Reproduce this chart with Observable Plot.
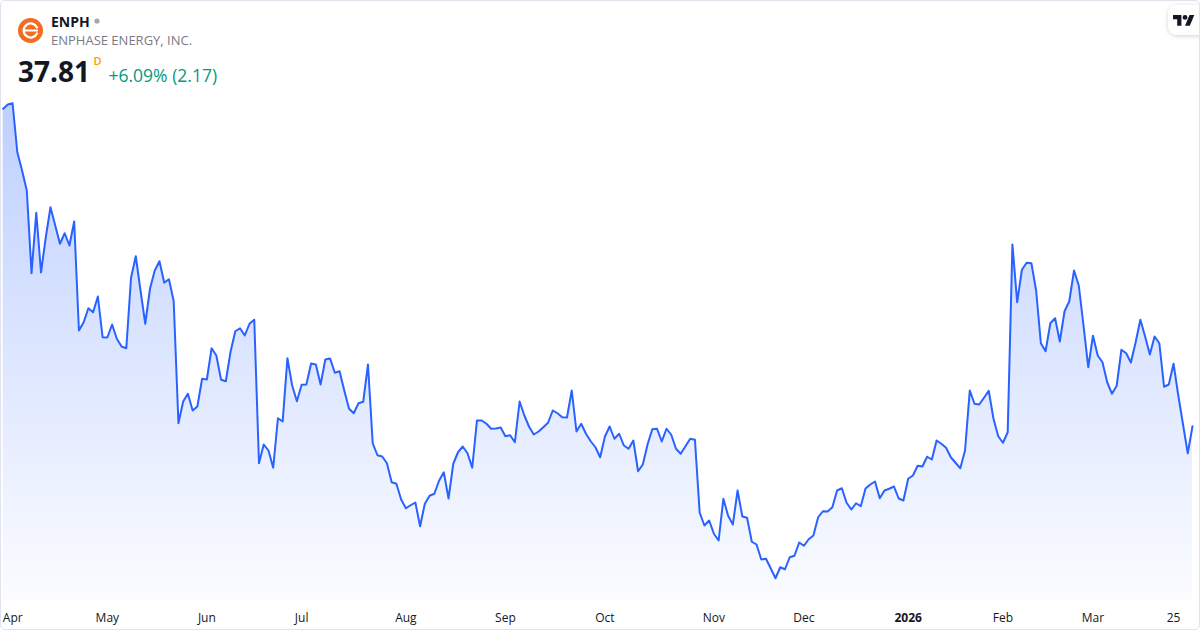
<!DOCTYPE html>
<html>
<head>
<meta charset="utf-8">
<script src="https://cdn.jsdelivr.net/npm/d3@7"></script>
<script src="https://cdn.jsdelivr.net/npm/@observablehq/plot@0.6"></script>
<style>
  html, body { margin: 0; padding: 0; background: #ffffff; }
  #wrap { position: relative; width: 1200px; height: 630px; overflow: hidden; background: #fff; font-family: "Open Sans", Roboto, sans-serif; }
  #chart { position: absolute; left: 0; top: 0; }
  #header { position: absolute; left: 0; top: 0; }
  #frame { position: absolute; left: 0; top: 0; width: 1200px; height: 630px; box-sizing: border-box; border: 1px solid #e0e3eb; border-radius: 5px; pointer-events: none; }
</style>
</head>
<body>
<div id="wrap">
  <div id="chart"></div>
  <svg id="header" width="1200" height="100" xmlns="http://www.w3.org/2000/svg">
    <defs>
      <filter id="shadow" x="-50%" y="-50%" width="200%" height="200%">
        <feDropShadow dx="0" dy="1" stdDeviation="2" flood-color="#000" flood-opacity="0.18"/>
      </filter>
    </defs>
    <circle cx="30.5" cy="30.5" r="12.5" fill="#f26c21"/>
    <path d="M37 27.5 A7 7 0 1 0 37 33.5" fill="none" stroke="#fff" stroke-width="2.2" stroke-linecap="round"/>
    <line x1="24.5" y1="30.5" x2="37" y2="30.5" stroke="#fff" stroke-width="2.2" stroke-linecap="round"/>
    <text x="51" y="26.5" font-family="Open Sans" font-weight="700" font-size="14" fill="#131722">ENPH</text>
    <circle cx="97" cy="21" r="2.6" fill="#a3a6af"/>
    <text x="51" y="45" font-family="Open Sans" font-size="13" fill="#787b86">ENPHASE ENERGY, INC.</text>
    <text x="18" y="81.5" font-family="Open Sans" font-weight="700" font-size="28" fill="#131722">37.81</text>
    <text x="93.5" y="65" font-family="Open Sans" font-weight="600" font-size="11" fill="#ff9800">D</text>
    <text x="108.5" y="81.5" font-family="Open Sans" font-size="17.5" fill="#089981">+6.09% (2.17)</text>
    <rect x="1168" y="5" width="44" height="30" rx="9" fill="#fff" filter="url(#shadow)"/>
    <g transform="translate(1173,12.6) scale(0.6)" fill="#131722">
      <path d="M14 22H7V11H0V4h14v18z"/>
      <path d="M28 22h-8l7.5-18h8L28 22z"/>
      <circle cx="20" cy="8" r="4"/>
    </g>
  </svg>
  <div id="frame"></div>
</div>
<script>
// Daily closes (trading days, 31 Mar 2025 .. 31 Mar 2026)
const closes = [
  63.21, 63.55, 63.65, 59.73, 58.27, 56.67, 50.05, 54.89, 50.11, 52.91,
  55.33, 53.87, 52.41, 53.25, 52.27, 54.19, 45.47, 46.13, 47.25, 46.93,
  48.19, 44.93, 44.91, 45.95, 44.81, 44.19, 44.05, 49.69, 51.41, 48.67,
  46.01, 48.81, 50.27, 51.01, 49.29, 49.57, 47.81, 38.05, 39.79, 40.41,
  39.07, 39.39, 41.61, 41.55, 44.05, 43.47, 41.53, 41.41, 43.77, 45.41,
  45.65, 45.07, 46.01, 46.33, 34.85, 36.35, 35.87, 34.49, 38.45, 38.19,
  43.25, 41.07, 39.81, 41.13, 41.15, 42.83, 42.75, 41.15, 43.15, 43.23,
  42.09, 42.21, 40.67, 39.21, 38.85, 39.65, 39.77, 42.75, 36.45, 35.49,
  35.39, 34.85, 33.33, 33.21, 31.95, 31.25, 31.49, 31.71, 29.81, 31.61,
  32.25, 32.41, 33.45, 34.13, 32.03, 34.81, 35.73, 36.19, 35.65, 34.49,
  38.27, 38.27, 38.01, 37.61, 37.63, 37.71, 37.01, 37.09, 36.53, 39.79,
  38.67, 37.77, 37.15, 37.39, 37.73, 38.09, 39.07, 38.85, 38.53, 38.51,
  40.67, 37.39, 38.01, 37.21, 36.61, 36.13, 35.33, 36.99, 37.79, 36.81,
  37.21, 36.27, 36.01, 36.67, 34.21, 34.75, 36.35, 37.57, 37.61, 36.59,
  37.61, 37.13, 36.01, 35.61, 36.21, 36.81, 36.73, 30.89, 29.87, 30.27,
  29.21, 28.67, 32.01, 30.65, 29.95, 32.67, 30.59, 30.49, 28.57, 28.35,
  27.15, 27.21, 26.43, 25.65, 26.53, 26.37, 27.33, 27.45, 28.51, 28.25,
  28.77, 29.07, 30.53, 31.01, 30.99, 31.33, 32.67, 32.85, 31.69, 31.15,
  31.65, 31.41, 32.83, 33.15, 33.39, 32.05, 32.67, 32.81, 32.99, 32.03,
  31.87, 33.61, 33.87, 34.65, 34.59, 35.37, 35.15, 36.67, 36.41, 36.09,
  35.33, 34.89, 34.45, 35.87, 40.67, 39.61, 39.55, 40.09, 40.65, 38.41,
  37.01, 36.49, 37.33, 52.35, 47.73, 50.33, 50.89, 50.85, 48.67, 44.45,
  43.81, 46.05, 46.45, 44.59, 47.01, 47.81, 50.27, 49.07, 45.87, 42.53,
  45.05, 43.47, 42.93, 41.33, 40.41, 41.05, 43.93, 43.65, 42.91, 44.53,
  46.33, 44.99, 43.55, 44.99, 44.45, 40.97, 41.15, 42.81, 40.27, 37.95,
  35.64, 37.81
];

// x-axis ticks: trading-day index and label
const tickIndex  = [1, 22, 43, 63, 85, 106, 127, 150, 169, 191, 211, 230, 247];
const tickLabels = ["Apr", "May", "Jun", "Jul", "Aug", "Sep", "Oct", "Nov", "Dec", "2026", "Feb", "Mar", "25"];

const yMin = 23.87, yMax = 71.87;

const data = closes.map((c, i) => ({i, close: c}));
const ticks = tickIndex.map((t, k) => ({i: t, label: tickLabels[k]}));

const lineColor = "#2962ff";
const font = "Open Sans, Roboto, sans-serif";

const plot = Plot.plot({
  width: 1200,
  height: 630,
  marginTop: 0,
  marginBottom: 30,
  marginLeft: 2.6,
  marginRight: 8,
  style: {background: "transparent", fontFamily: font, overflow: "visible"},
  x: {type: "linear", domain: [0, closes.length - 1], axis: null},
  y: {type: "linear", domain: [yMin, yMax], axis: null},
  marks: [
    Plot.areaY(data, {x: "i", y1: yMin, y2: "close", fill: "url(#areaGrad)", curve: "linear"}),
    Plot.lineY(data, {x: "i", y: "close", stroke: lineColor, strokeWidth: 2, curve: "linear", strokeLinejoin: "round"}),
    Plot.text(ticks.filter(d => d.label !== "2026" && d.label !== "Apr"), {
      x: "i", y: yMin, text: "label", dy: 18, fontSize: 12, fill: "#131722", textAnchor: "middle", lineAnchor: "middle"
    }),
    Plot.text(ticks.filter(d => d.label === "Apr"), {
      x: "i", y: yMin, text: "label", dy: 18, dx: -5, fontSize: 12, fill: "#131722", textAnchor: "start", lineAnchor: "middle"
    }),
    Plot.text(ticks.filter(d => d.label === "2026"), {
      x: "i", y: yMin, text: "label", dy: 18, fontSize: 12, fontWeight: "bold", fill: "#131722", textAnchor: "middle", lineAnchor: "middle"
    })
  ]
});

const svg = d3.select(plot);
const defs = svg.insert("defs", ":first-child");
const grad = defs.append("linearGradient")
  .attr("id", "areaGrad")
  .attr("x1", 0).attr("y1", 0).attr("x2", 0).attr("y2", 1);
grad.append("stop").attr("offset", "0%").attr("stop-color", lineColor).attr("stop-opacity", 0.3);
grad.append("stop").attr("offset", "100%").attr("stop-color", lineColor).attr("stop-opacity", 0.02);

document.getElementById("chart").appendChild(plot);
</script>
</body>
</html>
